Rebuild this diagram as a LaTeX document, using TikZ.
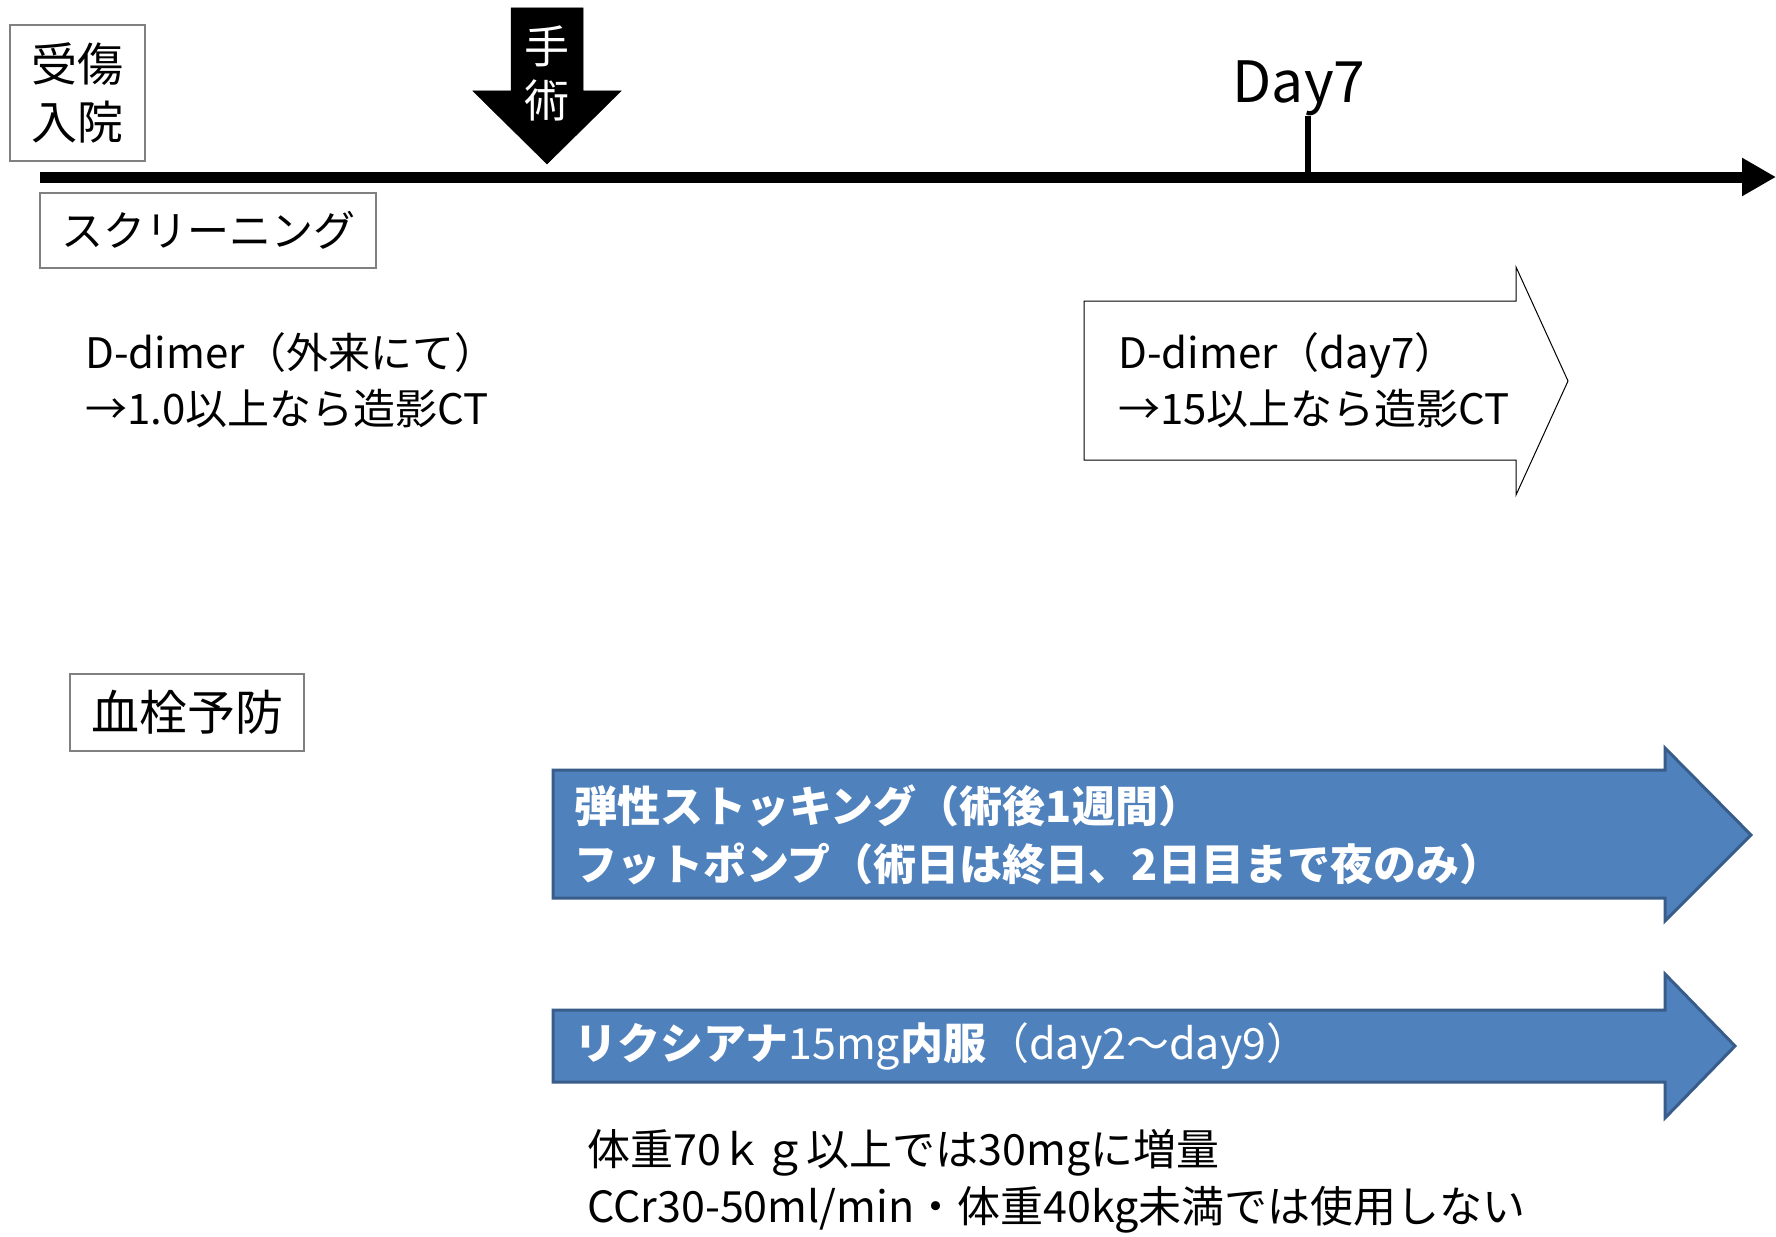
\documentclass[tikz,border=0pt]{standalone}
\usepackage{fontspec}
\setmainfont{Noto Sans CJK JP}
\usetikzlibrary{arrows.meta}
\definecolor{blfill}{HTML}{4F81BD}
\definecolor{bldraw}{HTML}{385D8A}
\definecolor{boxgray}{HTML}{808080}
\tikzset{
  framebox/.style={draw=boxgray, line width=1.3pt, fill=white, inner sep=0pt, align=center},
  txt/.style={inner sep=0pt, align=left, anchor=west, font=\fontsize{42}{56}\selectfont},
  bluetxt/.style={inner sep=0pt, align=left, anchor=west, text=white, font=\fontsize{43}{58}\selectfont\bfseries},
  bluearrow/.style={fill=blfill, draw=bldraw, line width=3pt, line join=miter},
  whitearrow/.style={fill=white, draw=black, line width=1pt},
  blackarrow/.style={fill=black, draw=black, line width=0.5pt}
}
\begin{document}
\begin{tikzpicture}[x=1pt,y=-1pt]
\useasboundingbox[fill=white] (0,0) rectangle (1776,1236);

% timeline
\coordinate (tlstart) at (40,177);
\coordinate (tlend) at (1776,177);
\draw[line width=11pt, -{Triangle[length=34pt,width=36pt]}] (tlstart) -- (tlend);
\coordinate (d7top) at (1308,116);
\coordinate (d7bot) at (1308,177);
\draw[line width=6.5pt] (d7top) -- (d7bot);
\node[inner sep=0pt, font=\fontsize{57}{60}\selectfont] (day7) at (1299,88) {Day7};

% admission box
\node[framebox, minimum width=135pt, minimum height=136pt, font=\fontsize{46}{58}\selectfont] (admit) at (77.5,93) {受傷\\入院};

% surgery arrow
\draw[blackarrow] (511,8) -- (583,8) -- (583,91) -- (621,91) -- (547,164) -- (473,91) -- (511,91) -- cycle;
\node[inner sep=0pt, text=white, font=\fontsize{45}{54}\selectfont] (op1) at (547,46) {手};
\node[inner sep=0pt, text=white, font=\fontsize{45}{54}\selectfont] (op2) at (547,100) {術};

% screening
\node[framebox, minimum width=336pt, minimum height=75pt, font=\fontsize{42}{56}\selectfont] (screen) at (208,230.5) {スクリーニング};
\node[txt] (dd1) at (85,380) {D-dimer（外来にて）\\→1.0以上なら造影CT};

% day7 white arrow
\draw[whitearrow] (1084,301) -- (1516,301) -- (1516,267) -- (1568,381) -- (1516,495) -- (1516,460) -- (1084,460) -- cycle;
\node[txt] (dd7) at (1118,380) {D-dimer（day7）\\→15以上なら造影CT};

% prophylaxis
\node[framebox, minimum width=234pt, minimum height=77pt, font=\fontsize{48}{56}\selectfont] (proph) at (187,712.5) {血栓予防};

% blue arrow 1
\draw[bluearrow] (553,770) -- (1665,770) -- (1665,748) -- (1751,835) -- (1665,921) -- (1665,898) -- (553,898) -- cycle;
\node[bluetxt] (stock) at (574,835) {弾性ストッキング（術後1週間）\\フットポンプ（術日は終日、2日目まで夜のみ）};

% blue arrow 2
\draw[bluearrow] (553,1010) -- (1665,1010) -- (1665,974) -- (1735,1046) -- (1665,1118) -- (1665,1082) -- (553,1082) -- cycle;
\node[bluetxt] (lix) at (574,1046) {リクシアナ\mdseries 15mg\bfseries 内服\mdseries（day2～day9）};

% notes
\node[txt, font=\fontsize{43}{57}\selectfont] (note) at (587,1181) {体重70ｋｇ以上では30mgに増量\\CCr30-50ml/min・体重40kg未満では使用しない};
\end{tikzpicture}
\end{document}
